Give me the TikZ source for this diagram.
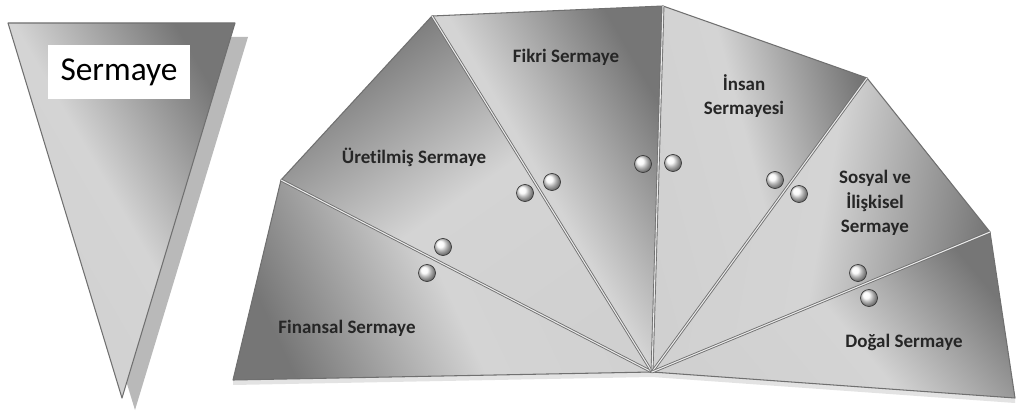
\documentclass[tikz,border=0pt]{standalone}
\usepackage{fontspec}
\setmainfont{Carlito}[Ligatures=NoCommon]
\usetikzlibrary{positioning}
\definecolor{lightsh}{RGB}{212,212,212}
\definecolor{darksh}{RGB}{118,118,118}
\definecolor{edgegray}{RGB}{112,112,112}

\begin{document}
\begin{tikzpicture}[x=0.02cm,y=-0.02cm]
\tikzset{
  wedge/.style={draw=edgegray, line width=0.6pt, line join=round,
    top color=darksh, bottom color=lightsh!96!darksh, middle color=lightsh},
  spoke/.style={draw=edgegray, double=lightsh!50!white, double distance=0.6pt, line width=0.5pt},
  bead/.style={circle, draw=gray!45!black, line width=0.4pt, ball color=gray!5,
    minimum size=0.34cm, inner sep=0pt},
  lbl/.style={font=\bfseries\fontsize{10.8}{14}\selectfont, align=center, text=black!85},
}
\useasboundingbox (0,0) rectangle (1017,412);

% left triangle with its shadow
\fill[gray!55] (21,37) -- (248,37) -- (135,410) -- cycle;
\path[wedge, shading angle=-60] (8,23) -- (235,23) -- (122,398) -- cycle;
\node[fill=white, minimum width=2.84cm, minimum height=1.1cm,
  font=\fontsize{19}{21}\selectfont] (title) at (119,72) {Sermaye};

% fan corners
\coordinate (O) at (652,372);
\coordinate (p0) at (233,380);
\coordinate (p1) at (281,180);
\coordinate (p2) at (432,16);
\coordinate (p3) at (663,6);
\coordinate (p4) at (867,78);
\coordinate (p5) at (990,232);
\coordinate (p6) at (1015,398);

% soft shadow under the fan
\fill[gray!22] (p0) -- (O) -- (p6) -- ([yshift=-0.1cm]p6) -- ([yshift=-0.1cm]O) -- ([yshift=-0.1cm]p0) -- cycle;

% wedges
\path[wedge, shading angle=115] (O) -- (p0) -- (p1) -- cycle;
\path[wedge, shading angle=35] (O) -- (p1) -- (p2) -- cycle;
\path[wedge, shading angle=-60] (O) -- (p2) -- (p3) -- cycle;
\path[wedge, shading angle=-75] (O) -- (p3) -- (p4) -- cycle;
\path[wedge, shading angle=-100] (O) -- (p4) -- (p5) -- cycle;
\path[wedge, shading angle=-50] (O) -- (p5) -- (p6) -- cycle;

\foreach \i in {1,...,5}
  \draw[spoke] (O) -- (p\i);

% beads on the seams
\node[bead] (b1a) at (427,273) {};
\node[bead] (b1b) at (443,247) {};
\node[bead] (b2a) at (525,193) {};
\node[bead] (b2b) at (552,182) {};
\node[bead] (b3a) at (643,164) {};
\node[bead] (b3b) at (673,163) {};
\node[bead] (b4a) at (775,180) {};
\node[bead] (b4b) at (799,194) {};
\node[bead] (b5a) at (858,273) {};
\node[bead] (b5b) at (869,298) {};

% labels
\node[lbl] (finansal) at (347,328) {Finansal Sermaye};
\node[lbl] (uretilmis) at (414,157) {Üretilmiş Sermaye};
\node[lbl] (fikri) at (566,57) {Fikri Sermaye};
\node[lbl] (insan) at (744,96) {İnsan\\Sermayesi};
\node[lbl] (sosyal) at (875,203) {Sosyal ve\\İlişkisel\\Sermaye};
\node[lbl] (dogal) at (904,342) {Doğal Sermaye};
\end{tikzpicture}
\end{document}
